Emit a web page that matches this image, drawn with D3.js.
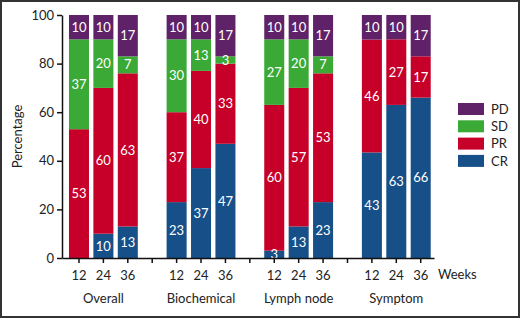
<!DOCTYPE html>
<html>
<head>
<meta charset="utf-8">
<script src="https://cdn.jsdelivr.net/npm/d3@7"></script>
<style>
  body { margin: 0; background: #fff; }
  svg { display: block; font-family: Lato, sans-serif; }
</style>
</head>
<body>
<svg class="svg" width="520" height="318"></svg>
<script>
const groups = ['Overall', 'Biochemical', 'Lymph node', 'Symptom'];
const weeks = ['12', '24', '36'];
const statuses = ['CR', 'PR', 'SD', 'PD'];

// one value per bar, groups in order, weeks 12/24/36 inside each group
const crValues = [0, 10, 13, 23, 37, 47, 3, 13, 23, 43, 63, 66];
const prValues = [53, 60, 63, 37, 40, 33, 60, 57, 53, 46, 27, 17];
const sdValues = [37, 20, 7, 30, 13, 3, 27, 20, 7, 0, 0, 0];
const pdValues = [10, 10, 17, 10, 10, 17, 10, 10, 17, 10, 10, 17];
const yTicks = [0, 20, 40, 60, 80, 100];

const colors = {
    CR: '#174f88',
    PR: '#c7002a',
    SD: '#3aa936',
    PD: '#5f2167'
};

function drawChart () {
    const width = 520;
    const height = 318;
    const margin = { top: 15, bottom: 60, left: 62 };

    const svg = d3.select('.svg')
        .attr('viewBox', `0 0 ${width} ${height}`);

    svg.append('rect')
        .attr('x', 1).attr('y', 1)
        .attr('width', width - 2).attr('height', height - 2)
        .attr('fill', 'none')
        .attr('stroke', '#333')
        .attr('stroke-width', 2);

    // rows for the stack
    const rows = [];
    const slots = [];
    groups.forEach((g, gi) => {
        weeks.forEach((w, wi) => {
            const i = gi * weeks.length + wi;
            const key = g + '|' + w;
            slots.push(key);
            rows.push({ key, group: g, week: w,
                CR: crValues[i], PR: prValues[i], SD: sdValues[i], PD: pdValues[i] });
        });
        if (gi < groups.length - 1) slots.push('gap' + gi);
    });

    /* X SCALE */
    const xScale = d3.scaleBand()
        .domain(slots)
        .range([margin.left, 434])
        .paddingInner(0.18)
        .paddingOuter(0.21)
        .align(0.68);

    /* Y SCALE */
    const yScale = d3.scaleLinear()
        .domain([0, 1])
        .range([height - margin.bottom, margin.top]);

    const series = d3.stack()
        .keys(statuses)
        .offset(d3.stackOffsetExpand)(rows);

    const layers = svg.selectAll('.layer')
        .data(series).enter()
        .append('g')
        .attr('class', 'layer')
        .attr('fill', d => colors[d.key]);

    layers.selectAll('rect')
        .data(d => d.filter(p => p[1] - p[0] > 0))
        .enter()
        .append('rect')
        .attr('x', d => xScale(d.data.key))
        .attr('y', d => yScale(d[1]))
        .attr('width', xScale.bandwidth())
        .attr('height', d => yScale(d[0]) - yScale(d[1]));

    // labels go on top of every segment
    const labels = [];
    series.forEach(s => {
        s.forEach(p => {
            if (p.data[s.key] > 0) labels.push({ p, v: p.data[s.key] });
        });
    });

    svg.append('g')
        .attr('class', 'labels')
        .selectAll('text')
        .data(labels).enter()
        .append('text')
        .attr('x', d => xScale(d.p.data.key) + xScale.bandwidth() / 2)
        .attr('y', d => yScale((d.p[0] + d.p[1]) / 2))
        .attr('dy', '0.36em')
        .attr('text-anchor', 'middle')
        .attr('fill', '#fff')
        .style('font-size', '13px')
        .text(d => d.v);

    const yAxis = d3.axisLeft(yScale)
        .tickValues(yTicks.map(t => t / 100))
        .tickFormat(d => Math.round(d * 100))
        .tickSize(5)
        .tickSizeOuter(0)
        .tickPadding(3);

    const xAxis = d3.axisBottom(xScale)
        .tickFormat(d => d.startsWith('gap') ? '' : d.split('|')[1])
        .tickSize(5)
        .tickSizeOuter(0)
        .tickPadding(8);

    const gx = svg.append('g')
        .attr('id', 'x-axis')
        .attr('transform', `translate(0, ${height - margin.bottom})`)
        .call(xAxis);

    const gy = svg.append('g')
        .attr('id', 'y-axis')
        .attr('transform', `translate(${margin.left}, 0)`)
        .call(yAxis);

    [gx, gy].forEach(g => {
        g.selectAll('path, line').attr('stroke', '#111').attr('stroke-width', 1.5);
        g.selectAll('text')
            .attr('fill', '#222')
            .style('font-family', 'Lato, sans-serif')
            .style('font-size', '13px');
    });

    // group names under the week ticks
    svg.selectAll('.group-label')
        .data(groups).enter()
        .append('text')
        .attr('class', 'group-label')
        .attr('x', g => xScale(g + '|24') + xScale.bandwidth() / 2)
        .attr('y', 303)
        .attr('text-anchor', 'middle')
        .attr('fill', '#222')
        .style('font-size', '13px')
        .text(g => g);

    svg.append('text')
        .attr('x', 438)
        .attr('y', 279)
        .attr('fill', '#222')
        .style('font-size', '13px')
        .text('Weeks');

    svg.append('text')
        .attr('transform', 'rotate(-90)')
        .attr('x', -(margin.top + height - margin.bottom) / 2)
        .attr('y', 22)
        .attr('text-anchor', 'middle')
        .attr('fill', '#222')
        .style('font-size', '13px')
        .text('Percentage');

    /* LEGEND */
    const legend = svg.append('g')
        .attr('id', 'legend');

    const legendItems = statuses.slice().reverse();
    legend.selectAll('rect')
        .data(legendItems).enter()
        .append('rect')
        .attr('x', 458)
        .attr('y', (d, i) => 103 + i * 17.3)
        .attr('width', 26)
        .attr('height', 12)
        .attr('fill', d => colors[d]);

    legend.selectAll('text')
        .data(legendItems).enter()
        .append('text')
        .attr('x', 491)
        .attr('y', (d, i) => 109 + i * 17.3)
        .attr('dy', '0.36em')
        .attr('fill', '#222')
        .style('font-size', '13px')
        .text(d => d);
}

document.addEventListener('DOMContentLoaded', drawChart);
</script>
</body>
</html>
